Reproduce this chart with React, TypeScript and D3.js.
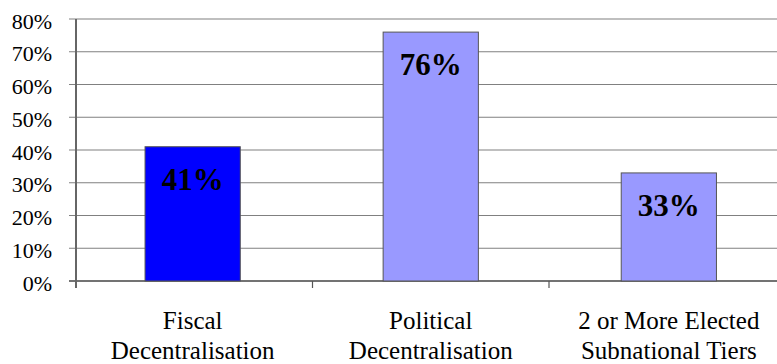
import React from "react";
import * as d3 from "d3";

const categories = ["Fiscal|Decentralisation", "Political|Decentralisation", "2 or More Elected|Subnational Tiers"];
const values = [41, 76, 33];
const colors = ["#0000FF", "#9999FF", "#9999FF"];
const yTicks = [0, 10, 20, 30, 40, 50, 60, 70, 80];

export default function App() {
  const W = 777, H = 364;
  const left = 76, right = 785.5, top = 19, bottom = 281;
  const x = d3.scaleBand<string>().domain(categories).range([left, right]).paddingInner(0.6).paddingOuter(0.29);
  const xOuter = d3.scaleBand<string>().domain(categories).range([left, right]);
  const y = d3.scaleLinear().domain([0, 80]).range([bottom, top]);
  const font = "'Liberation Serif', 'Times New Roman', Times, serif";
  return (
    <svg width={W} height={H} style={{ position: "absolute", left: 0, top: 0, background: "#fff" }}>
      {yTicks.map((t) => (
        <g key={t}>
          <line x1={left - 7} x2={W} y1={y(t)} y2={y(t)} stroke={t === 0 ? "#444" : "#808080"} strokeWidth={t === 0 ? 1.5 : 1.2} />
          <text x={52} y={y(t) + 9.5} textAnchor="end" style={{ fontFamily: font }} fontSize={22} fill="#000">{t}%</text>
        </g>
      ))}
      {categories.slice(1).map((c) => (
        <line key={c} x1={xOuter(c)!} x2={xOuter(c)!} y1={bottom} y2={bottom + 7} stroke="#555" strokeWidth={1.2} />
      ))}
      <line x1={left} x2={left} y1={top} y2={bottom + 7} stroke="#666" strokeWidth={2} />
      {categories.map((c, i) => (
        <g key={c}>
          <rect x={x(c)!} y={y(values[i])} width={x.bandwidth()} height={bottom - y(values[i])} fill={colors[i]} stroke="#555" strokeWidth={1} />
          <text x={x(c)! + x.bandwidth() / 2} y={y(values[i]) + 43} textAnchor="middle" style={{ fontFamily: font }} fontWeight="bold" fontSize={31} fill="#000">{values[i]}%</text>
          {c.split("|").map((line, j) => (
            <text key={j} x={x(c)! + x.bandwidth() / 2} y={329 + j * 30} textAnchor="middle" style={{ fontFamily: font }} fontSize={25} fill="#000">{line}</text>
          ))}
        </g>
      ))}
    </svg>
  );
}
